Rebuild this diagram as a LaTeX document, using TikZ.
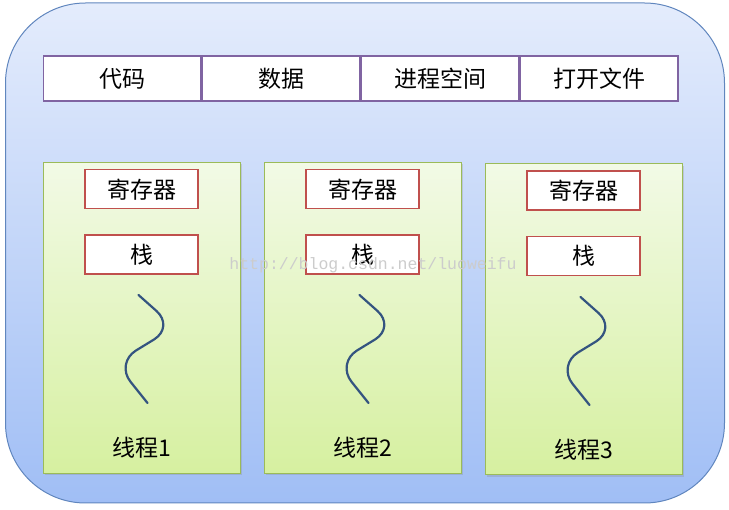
\documentclass[tikz,border=0pt]{standalone}
\usepackage{fontspec}
\setmainfont{Noto Sans CJK SC}
\newfontfamily\wmfont{Liberation Mono}
\usetikzlibrary{positioning,shadows}

\definecolor{procline}{RGB}{96,134,190}
\definecolor{proctop}{RGB}{228,236,252}
\definecolor{procbot}{RGB}{160,190,245}
\definecolor{cellline}{RGB}{128,100,162}
\definecolor{threadline}{RGB}{155,187,89}
\definecolor{threadtop}{RGB}{242,250,230}
\definecolor{threadbot}{RGB}{214,240,160}
\definecolor{regline}{RGB}{192,80,77}
\definecolor{waveline}{RGB}{52,84,128}

\begin{document}
\begin{tikzpicture}[x=1pt,y=-1pt,node distance=0pt,
        font=\fontsize{23}{27}\selectfont,
        proc/.style={draw=procline,line width=1pt,rounded corners=80pt,
                     top color=proctop,bottom color=procbot,
                     minimum width=719pt,minimum height=500pt},
        cell/.style={draw=cellline,line width=1.5pt,fill=white,inner sep=0pt,
                     minimum width=157.5pt,minimum height=45pt},
        thread/.style={draw=threadline,line width=1pt,
                       top color=threadtop,bottom color=threadbot,
                       minimum width=197pt,minimum height=311pt,
                       drop shadow={opacity=0.25,shadow xshift=2pt,shadow yshift=-2pt}},
        regbox/.style={draw=regline,line width=1.5pt,fill=white,inner sep=0pt,
                       minimum width=113pt,minimum height=39pt},
        wave/.style={draw=waveline,line width=2.2pt,line cap=round,rounded corners=24pt},
        wmark/.style={font=\wmfont\fontsize{16.5}{18}\selectfont,text=black!20}]
\path[use as bounding box] (0,0) rectangle (729,510);

  \node[proc] (proc) at (365,253) {};

  % process resources
  \node[cell] (code) at (122,78.5) {代码};
  \node[cell] (data) [right=of code] {数据};
  \node[cell] (space) [right=of data] {进程空间};
  \node[cell] (files) [right=of space] {打开文件};

  % threads
  \node[thread] (t1) at (141.5,318) {};
  \node[thread] (t2) at (362.5,318) {};
  \node[thread] (t3) at (583.5,319.5) {};

  \node[regbox] (reg1) [below=7pt of t1.north] {寄存器};
  \node[regbox] (reg2) [below=7pt of t2.north] {寄存器};
  \node[regbox] (reg3) [below=7pt of t3.north] {寄存器};
  \node[regbox] (stack1) [below=25pt of reg1] {栈};
  \node[regbox] (stack2) [below=25pt of reg2] {栈};
  \node[regbox] (stack3) [below=25pt of reg3] {栈};

  \draw[wave] (138.5,295) -- ++(36,32) -- ++(-59,36) -- ++(32,40);
  \draw[wave] (359.5,295) -- ++(36,32) -- ++(-59,36) -- ++(32,40);
  \draw[wave] (580.5,297) -- ++(36,32) -- ++(-59,36) -- ++(32,40);

  \node (n1) at ([yshift=26pt]t1.south) {线程1};
  \node (n2) at ([yshift=26pt]t2.south) {线程2};
  \node (n3) at ([yshift=26pt]t3.south) {线程3};

  \node[wmark] (url) at (373,265) {http://blog.csdn.net/luoweifu};
\end{tikzpicture}
\end{document}
